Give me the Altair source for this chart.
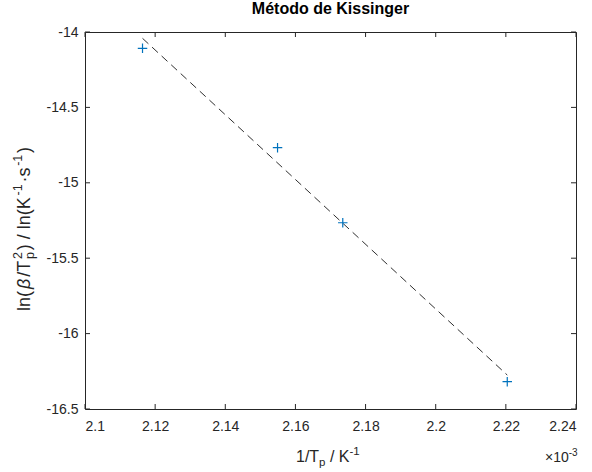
import altair as alt
import pandas as pd

# data
inv_tp = [2.1164, 2.1549, 2.1735, 2.2204]          # 1/Tp (x 10^-3 K^-1)
ln_beta = [-14.108, -14.767, -15.265, -16.319]     # ln(beta/Tp^2)
fit_x = [2.1164, 2.2204]
fit_y = [-14.042, -16.275]
x_ticks = [2.1, 2.12, 2.14, 2.16, 2.18, 2.2, 2.22, 2.24]
y_ticks = [-16.5, -16, -15.5, -15, -14.5, -14]

PL, PT = 85, 32          # plot origin in the page
W, H = 491, 377
FONT = "Liberation Sans"
AX = "#262626"

# Arial / Liberation Sans advance widths (em)
CW = {'1': .556, '2': .556, '3': .556, '0': .556, '/': .278, 'T': .611, 'p': .556, ' ': .278,
      'K': .667, '-': .333, 'l': .222, 'n': .556, '(': .333, ')': .333, '·': .333, 's': .5,
      'β': .58, '×': .584}


def tw(t, s):
    return sum(CW.get(c, .556) for c in t) * s


def run_layers(runs, start, base, angle=0, gap=0.0):
    """runs: (text, size, shift, advance?, italic). Builds text marks along a line."""
    layers = []
    pos = start
    for text, size, shift, adv, ital in runs:
        lead = len(text) - len(text.lstrip(" "))
        body = text.lstrip(" ")
        p = pos + (tw(" " * lead, size) if angle == 0 else -tw(" " * lead, size))
        if angle == 0:
            x, y = p, base + shift
        else:  # 270: text reads upward, top of glyphs points left
            x, y = base + shift, p
        kw = dict(font=FONT, fontSize=size, color=AX, align="left", baseline="alphabetic",
                  text=body)
        if angle:
            kw["angle"] = angle
        if ital:
            kw["fontStyle"] = "italic"
        layers.append(alt.Chart(pd.DataFrame({"a": [0]})).mark_text(**kw).encode(
            x=alt.value(x - PL), y=alt.value(y - PT)))
        if adv:
            d = tw(text, size) + gap
            pos = pos + d if angle == 0 else pos - d
    return layers


pts = pd.DataFrame({"x": inv_tp, "y": ln_beta})
fit = pd.DataFrame({"x": fit_x, "y": fit_y})
xt = pd.DataFrame({"v": x_ticks})
yt = pd.DataFrame({"v": y_ticks})

xs = alt.Scale(domain=[2.1, 2.24], nice=False, zero=False)
ys = alt.Scale(domain=[-16.5, -14], nice=False, zero=False)

x_axis = alt.Axis(
    values=x_ticks, ticks=False, domain=False, grid=False, title=None,
    labelExpr="replace(format(datum.value, '.2~f'), '\u2212', '-')",
    labelFont=FONT, labelFontSize=14, labelColor=AX, labelPadding=10,
)
y_axis = alt.Axis(
    values=y_ticks, ticks=False, domain=False, grid=False, title=None,
    labelExpr="replace(format(datum.value, '.1~f'), '\u2212', '-')",
    labelFont=FONT, labelFontSize=14, labelColor=AX, labelPadding=7,
)

line = alt.Chart(fit).mark_line(color="#303030", strokeWidth=1, strokeDash=[8, 5]).encode(
    x=alt.X("x:Q", scale=xs, axis=x_axis),
    y=alt.Y("y:Q", scale=ys, axis=y_axis),
)
points = alt.Chart(pts).mark_point(
    shape="M-1,0L1,0M0,-1L0,1", size=90, filled=False, color="#0072BD", strokeWidth=1.2, opacity=1
).encode(x=alt.X("x:Q", scale=xs), y=alt.Y("y:Q", scale=ys))

tb = alt.Chart(xt).mark_rule(color=AX, strokeWidth=1).encode(
    x=alt.X("v:Q", scale=xs), y=alt.value(H), y2=alt.value(H - 5))
tt = alt.Chart(xt).mark_rule(color=AX, strokeWidth=1).encode(
    x=alt.X("v:Q", scale=xs), y=alt.value(0), y2=alt.value(5))
tl = alt.Chart(yt).mark_rule(color=AX, strokeWidth=1).encode(
    y=alt.Y("v:Q", scale=ys), x=alt.value(0), x2=alt.value(5))
tr = alt.Chart(yt).mark_rule(color=AX, strokeWidth=1).encode(
    y=alt.Y("v:Q", scale=ys), x=alt.value(W), x2=alt.value(W - 5))

# x axis title: 1/T_p / K^-1
S, s = 16, 11.5
x_runs = [("1/T", S, 0, True, False), ("p", s, 4, True, False),
          (" / K", S, 0, True, False), ("-1", s, -7, True, False)]
x_title = run_layers(x_runs, 296, 462)

# y axis title: ln(beta/T_p^2) / ln(K^-1 . s^-1)
S2, s2 = 18, 12.5
GAP = 1.8
y_runs = [("ln(", S2, 0, True, False), ("β", S2, 0, True, True), ("/T", S2, 0, True, False),
          ("p", s2, 4, False, False), ("2", s2, -8, True, False),
          (") / ln(K", S2, 0, True, False), ("-1", s2, -8, True, False),
          ("·s", S2, 0, True, False), ("-1", s2, -8, True, False), (")", S2, 0, True, False)]
y_len = sum(tw(t, z) + GAP for t, z, _, a, _ in y_runs if a)
y_title = run_layers(y_runs, 228 + y_len / 2, 30, angle=270, gap=GAP)

# x 10^-3 multiplier
expo = run_layers([("×10", 14, 0, True, False), ("-3", 10, -6, True, False)], 545, 462)

chart = alt.layer(line, points, tb, tt, tl, tr, *x_title, *y_title, *expo).properties(
    width=W, height=H,
    title=alt.TitleParams("Método de Kissinger", font=FONT, fontSize=16, fontWeight="bold",
                          color="#000000", offset=8),
    autosize=alt.AutoSizeParams(type="none"),
    padding={"left": PL, "top": PT, "right": 592 - PL - W, "bottom": 472 - PT - H},
).configure(background="white").configure_view(stroke=AX, strokeWidth=1)

chart.save("out.html", embed_options={"renderer": "svg", "actions": False})
